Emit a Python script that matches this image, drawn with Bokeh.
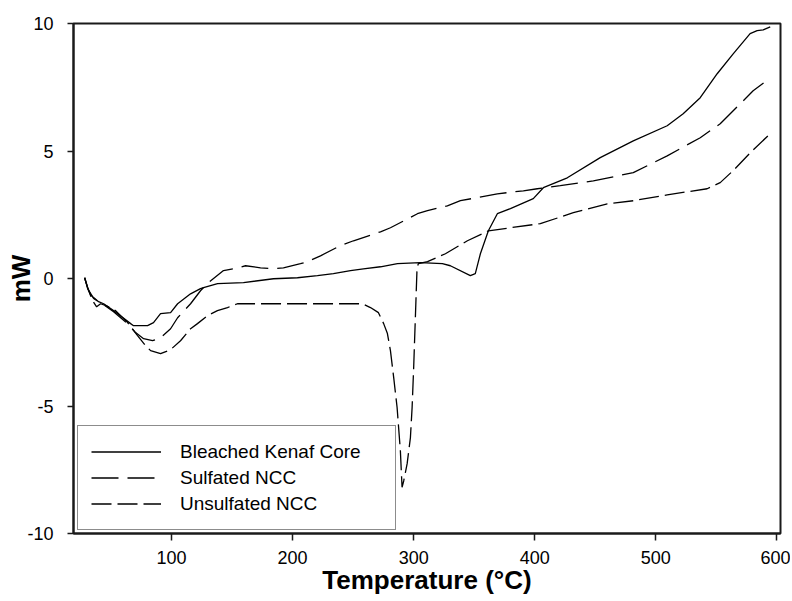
from bokeh.plotting import figure
from bokeh.models import Range1d, FixedTicker
from bokeh.embed import file_html
from bokeh.resources import INLINE

# ---- data ----
series_names = ["Bleached Kenaf Core", "Sulfated NCC", "Unsulfated NCC"]

temp_bleached = [28.2, 30.7, 33.1, 35.6, 39.7, 43.9, 52.1, 66.2, 68.6, 80.2, 85.1, 90.9, 99.2, 105.0,
                 115.7, 123.9, 126.4, 138.0, 159.4, 184.2, 204.0, 220.5, 233.7, 247.8, 258.5, 272.6,
                 286.6, 305.6, 323.7, 330.3, 346.8, 350.9, 355.1, 361.7, 369.1, 379.9, 398.8, 407.1,
                 426.9, 454.1, 481.4, 509.4, 522.6, 536.7, 550.7, 563.9, 577.9, 583.7, 588.7, 594.5]
mw_bleached = [0.03, -0.36, -0.64, -0.75, -0.91, -0.99, -1.26, -1.77, -1.85, -1.85, -1.73, -1.38, -1.34,
               -0.99, -0.60, -0.40, -0.36, -0.20, -0.16, -0.01, 0.03, 0.11, 0.19, 0.31, 0.38, 0.46,
               0.58, 0.62, 0.58, 0.50, 0.11, 0.19, 0.97, 1.87, 2.54, 2.74, 3.13, 3.56, 3.95, 4.74,
               5.40, 5.99, 6.46, 7.09, 8.03, 8.81, 9.60, 9.72, 9.75, 9.87]

temp_sulfated = [28.2, 30.7, 35.6, 43.9, 52.1, 63.7, 70.3, 76.9, 84.3, 90.9, 99.2, 105.0, 115.7, 123.9,
                 130.5, 142.9, 151.2, 161.1, 173.5, 183.4, 192.4, 206.5, 212.3, 223.0, 239.5, 250.3,
                 272.6, 280.8, 303.1, 311.4, 327.8, 338.6, 369.1, 390.6, 402.1, 421.1, 448.4, 481.4,
                 509.4, 536.7, 553.2, 569.7, 580.4, 594.5]
mw_sulfated = [0.03, -0.40, -0.78, -1.03, -1.30, -1.77, -2.12, -2.36, -2.44, -2.32, -1.97, -1.54, -0.99,
               -0.48, -0.16, 0.31, 0.38, 0.50, 0.42, 0.38, 0.42, 0.58, 0.66, 0.89, 1.29, 1.48, 1.83,
               1.99, 2.54, 2.66, 2.85, 3.05, 3.32, 3.44, 3.52, 3.64, 3.83, 4.15, 4.81, 5.52, 6.07,
               6.85, 7.36, 7.87]

temp_unsulfated = [28.2, 31.5, 34.8, 38.1, 41.4, 46.3, 53.8, 63.7, 71.9, 78.5, 82.7, 90.9, 99.2, 107.4,
                   115.7, 121.4, 129.7, 137.9, 146.2, 154.4, 173.5, 200.7, 223.0, 257.7, 264.3, 270.9,
                   275.2, 278.3, 280.8, 283.5, 286.3, 289.0, 290.4, 291.8, 294.6, 297.3, 298.7, 300.0,
                   301.4, 302.8, 303.9, 311.4, 326.2, 344.4, 361.7, 379.9, 404.6, 431.9, 459.9, 481.4,
                   509.4, 542.4, 553.2, 563.9, 578.0, 594.5]
mw_unsulfated = [0.03, -0.48, -0.87, -1.11, -0.99, -1.07, -1.26, -1.73, -2.24, -2.63, -2.83, -2.95, -2.79,
                 -2.44, -1.97, -1.77, -1.46, -1.26, -1.14, -0.99, -0.99, -0.99, -0.99, -0.99, -1.14,
                 -1.34, -1.77, -2.16, -2.83, -3.89, -5.06, -6.75, -8.19, -7.93, -7.26, -6.24, -5.06,
                 -3.48, -1.52, 0.44, 0.58, 0.66, 0.97, 1.48, 1.87, 1.99, 2.15, 2.58, 2.93, 3.05, 3.28,
                 3.52, 3.76, 4.23, 4.93, 5.68]

x_ticks = [100, 200, 300, 400, 500, 600]
y_ticks = [-10, -5, 0, 5, 10]
y_tick_labels = {-10: "-10", -5: "-5", 0: "0", 5: "5", 10: "10"}

FONT = "Liberation Sans"

p = figure(frame_width=707, frame_height=510, x_range=Range1d(19, 603), y_range=Range1d(-10, 10),
           output_backend="svg", toolbar_location=None,
           min_border_left=73, min_border_top=23, min_border_right=10, min_border_bottom=68)
p.background_fill_color = "white"
p.border_fill_color = "white"
p.xgrid.visible = False
p.ygrid.visible = False
p.outline_line_color = "#1a1a1a"
p.outline_line_width = 2
p.outline_line_alpha = 1

p.line(temp_bleached, mw_bleached, line_color="black", line_width=1.3, legend_label=series_names[0])
p.line(temp_sulfated, mw_sulfated, line_color="black", line_width=1.3, line_dash="27 9",
       legend_label=series_names[1])
p.line(temp_unsulfated, mw_unsulfated, line_color="black", line_width=1.3, line_dash="20 6",
       legend_label=series_names[2])

# axes
p.xaxis.ticker = FixedTicker(ticks=x_ticks)
p.yaxis.ticker = FixedTicker(ticks=y_ticks)
p.yaxis.major_label_overrides = y_tick_labels
for ax in (p.xaxis[0], p.yaxis[0]):
    ax.axis_line_color = "#1a1a1a"
    ax.axis_line_width = 2
    ax.major_tick_line_color = "#1a1a1a"
    ax.major_tick_line_width = 1.5
    ax.major_tick_in = 0
    ax.minor_tick_line_color = None
    ax.major_label_text_font = FONT
    ax.major_label_text_font_size = "18px"
    ax.major_label_text_color = "black"
    ax.axis_label_text_font = FONT
    ax.axis_label_text_font_style = "bold"
    ax.axis_label_text_font_size = "26px"
    ax.axis_label_text_color = "black"

p.xaxis.major_tick_out = 7
p.xaxis.major_label_standoff = 10
p.xaxis.axis_label = "Temperature (°C)"
p.xaxis.axis_label_standoff = -2

p.yaxis.major_tick_out = 6
p.yaxis.major_label_standoff = 14
p.yaxis.axis_label = "mW"
p.yaxis.axis_label_standoff = -12

# legend
lg = p.legend[0]
lg.location = (4, 3)
lg.margin = 0
lg.padding = 13
lg.spacing = 1
lg.glyph_width = 70
lg.glyph_height = 25
lg.label_height = 25
lg.label_width = 202
lg.label_standoff = 19
lg.label_text_font = FONT
lg.label_text_font_size = "19px"
lg.label_text_color = "black"
lg.border_line_color = "#1a1a1a"
lg.border_line_width = 1.5
lg.background_fill_color = "white"
lg.background_fill_alpha = 1

open("out.html", "w").write(file_html(p, INLINE))
